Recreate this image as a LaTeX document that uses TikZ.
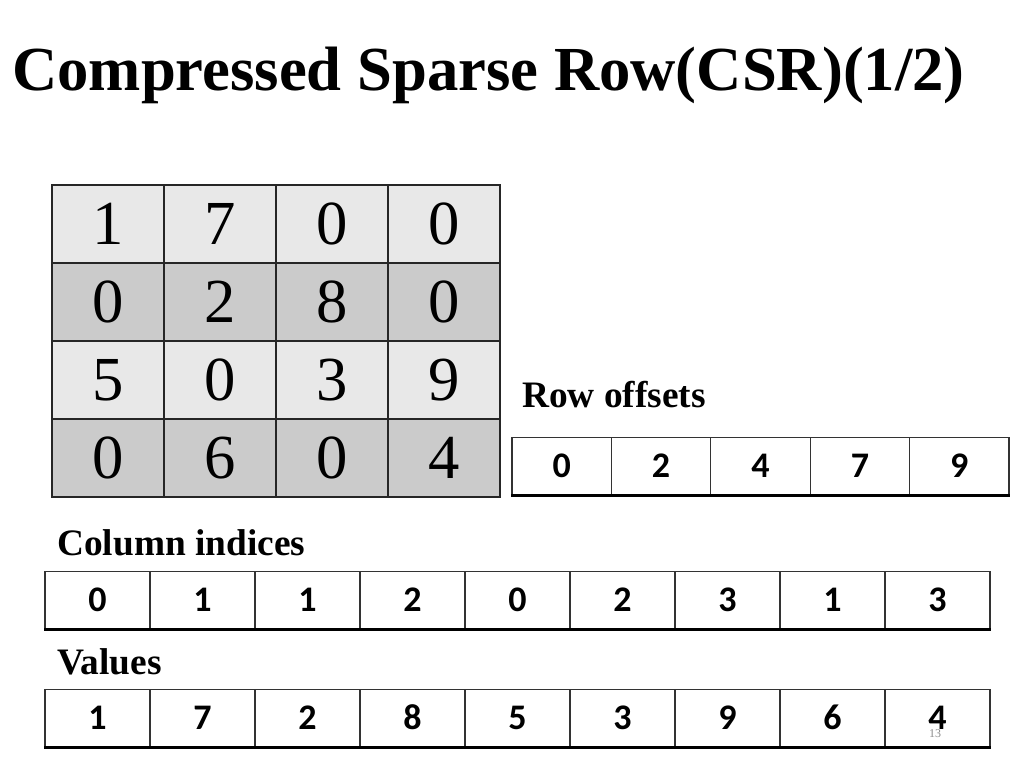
\documentclass[tikz,border=0pt]{standalone}
\usepackage{fontspec}
\setmainfont{Liberation Serif}
\newfontfamily\carlitofont{Carlito}
\definecolor{lightc}{HTML}{E8E8E8}
\definecolor{darkc}{HTML}{CBCBCB}
\begin{document}
\begin{tikzpicture}[x=0.75pt,y=-0.75pt,
  mcell/.style={draw=black!85,line width=1.2pt,minimum width=84pt,minimum height=58.5pt,inner sep=0pt,text height=30pt,text depth=0pt,font=\fontsize{47}{47}\selectfont},
  acell/.style={draw=black!80,line width=0.9pt,minimum width=#1,minimum height=43pt,inner sep=0pt,text height=17pt,text depth=0pt,font=\carlitofont\bfseries\fontsize{27}{27}\selectfont},
  lbl/.style={anchor=west,inner sep=0pt,font=\bfseries\fontsize{28}{28}\selectfont}]
\useasboundingbox (0,0) rectangle (1024,768);
\fill[white] (0,0) rectangle (1024,768);
\node[anchor=west,inner sep=0pt,font=\bfseries\fontsize{47}{47}\selectfont] (title) at (12,75) {Compressed Sparse Row(CSR)(1/2)};
% matrix
\foreach \r/\row/\col in {1/{1,7,0,0}/lightc,2/{0,2,8,0}/darkc,3/{5,0,3,9}/lightc,4/{0,6,0,4}/darkc}{
  \foreach \v [count=\c] in \row {
    \node[mcell,fill=\col] (m\r\c) at ({52+112*(\c-0.5)},{185+78*(\r-0.5)}) {\v};
  }
}
\node[lbl] (rolbl) at (522,395) {Row offsets};
\foreach \v [count=\c] in {0,2,4,7,9}{
  \node[acell=74.5pt] (ro\c) at ({512+99.4*(\c-0.5)},466) {\v};
}
\draw[line width=2pt] (ro1.south west) -- (ro5.south east);
\node[lbl] (cilbl) at (57,543) {Column indices};
\foreach \v [count=\c] in {0,1,1,2,0,2,3,1,3}{
  \node[acell=78.75pt] (ci\c) at ({45+105*(\c-0.5)},600) {\v};
}
\draw[line width=2pt] (ci1.south west) -- (ci9.south east);
\node[lbl] (vlbl) at (57,662) {Values};
\foreach \v [count=\c] in {1,7,2,8,5,3,9,6,4}{
  \node[acell=78.75pt] (va\c) at ({45+105*(\c-0.5)},718) {\v};
}
\draw[line width=2pt] (va1.south west) -- (va9.south east);
\node[font=\fontsize{9}{9}\selectfont,text=black!45,inner sep=0pt] (pg) at (935,734) {13};
\end{tikzpicture}
\end{document}
